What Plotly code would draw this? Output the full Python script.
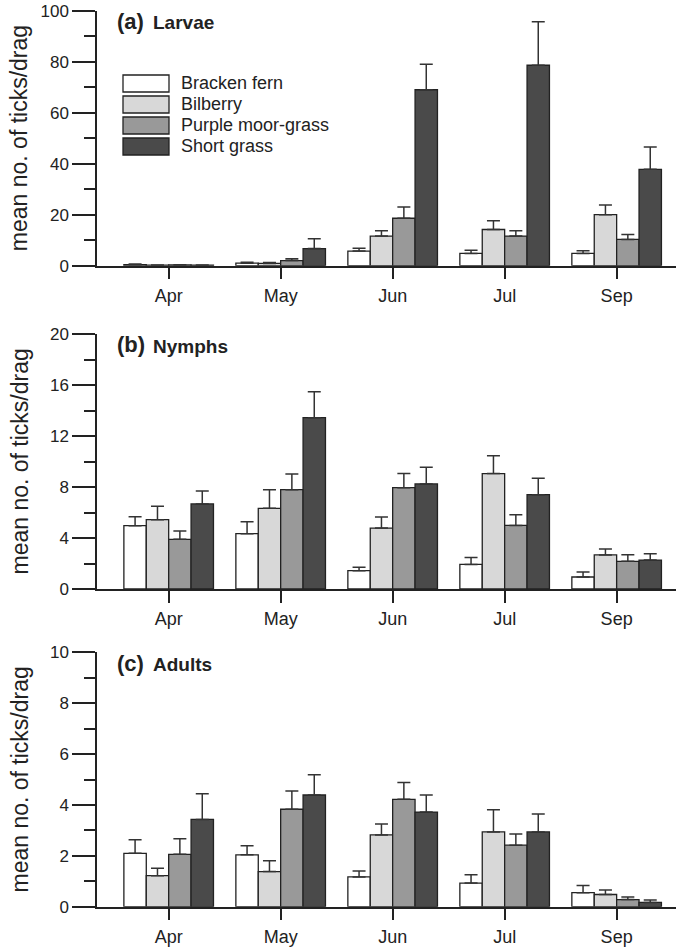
import plotly.graph_objects as go

# ---------------- data ----------------
months = ["Apr", "May", "Jun", "Jul", "Sep"]
habitats = ["Bracken fern", "Bilberry", "Purple moor-grass", "Short grass"]
colors = ["#ffffff", "#d8d8d8", "#999999", "#4a4a4a"]

# (a) Larvae: means and upper SE
larvae_bracken = [0.4, 1.0, 5.75, 4.8, 4.8]
larvae_bilberry = [0.2, 0.9, 11.6, 14.2, 20.0]
larvae_moor = [0.3, 2.0, 18.6, 11.6, 10.3]
larvae_short = [0.2, 6.7, 69.0, 78.6, 37.8]
larvae_bracken_se = [0.3, 0.4, 1.05, 1.3, 1.1]
larvae_bilberry_se = [0.1, 0.4, 2.1, 3.4, 3.8]
larvae_moor_se = [0.1, 0.7, 4.4, 2.1, 1.9]
larvae_short_se = [0.1, 3.9, 10.0, 17.1, 8.7]

# (b) Nymphs
nymphs_bracken = [4.97, 4.34, 1.44, 1.93, 0.94]
nymphs_bilberry = [5.44, 6.33, 4.78, 9.05, 2.67]
nymphs_moor = [3.90, 7.79, 7.95, 4.99, 2.17]
nymphs_short = [6.67, 13.44, 8.24, 7.40, 2.27]
nymphs_bracken_se = [0.70, 0.94, 0.26, 0.55, 0.39]
nymphs_bilberry_se = [1.06, 1.46, 0.87, 1.41, 0.47]
nymphs_moor_se = [0.65, 1.23, 1.10, 0.84, 0.52]
nymphs_short_se = [1.02, 2.04, 1.30, 1.28, 0.50]

# (c) Adults
adults_bracken = [2.10, 2.04, 1.17, 0.93, 0.55]
adults_bilberry = [1.22, 1.38, 2.82, 2.94, 0.48]
adults_moor = [2.06, 3.83, 4.22, 2.42, 0.28]
adults_short = [3.43, 4.39, 3.72, 2.94, 0.17]
adults_bracken_se = [0.53, 0.36, 0.23, 0.33, 0.28]
adults_bilberry_se = [0.29, 0.43, 0.43, 0.87, 0.18]
adults_moor_se = [0.61, 0.72, 0.66, 0.44, 0.10]
adults_short_se = [1.01, 0.80, 0.67, 0.70, 0.09]

panel_labels = ["(a)", "(b)", "(c)"]
panel_names = ["Larvae", "Nymphs", "Adults"]
y_max = [100, 20, 10]
y_dtick = [20, 4, 2]
y_title = "mean no. of ticks/drag"

panel_means = [
    [larvae_bracken, larvae_bilberry, larvae_moor, larvae_short],
    [nymphs_bracken, nymphs_bilberry, nymphs_moor, nymphs_short],
    [adults_bracken, adults_bilberry, adults_moor, adults_short],
]
panel_se = [
    [larvae_bracken_se, larvae_bilberry_se, larvae_moor_se, larvae_short_se],
    [nymphs_bracken_se, nymphs_bilberry_se, nymphs_moor_se, nymphs_short_se],
    [adults_bracken_se, adults_bilberry_se, adults_moor_se, adults_short_se],
]

# ---------------- layout geometry ----------------
W, H = 676, 948
L = 97
FONT = "Liberation Sans, Arial, Helvetica, sans-serif"
INK = "#222222"


def px(x):
    return (x - L) / (W - L)


def py(y):
    return 1 - y / H


panel_px = [(10.7, 265.7), (334.0, 589.0), (652.3, 906.7)]

fig = go.Figure()
layout = dict(
    width=W, height=H,
    margin=dict(l=L, r=0, t=0, b=0, autoexpand=False),
    paper_bgcolor="white", plot_bgcolor="white",
    barmode="group", bargap=0.2, bargroupgap=0.0,
    showlegend=False,
    font=dict(family=FONT, color=INK),
)
annotations = []
shapes = []

for i in range(3):
    xa = "x" if i == 0 else f"x{i+1}"
    ya = "y" if i == 0 else f"y{i+1}"
    xkey = "xaxis" if i == 0 else f"xaxis{i+1}"
    ykey = "yaxis" if i == 0 else f"yaxis{i+1}"
    top, bot = panel_px[i]
    for j, hab in enumerate(habitats):
        fig.add_trace(go.Bar(
            x=months, y=panel_means[i][j], name=hab,
            xaxis=xa, yaxis=ya, offsetgroup=str(j),
            marker=dict(color=colors[j], line=dict(color=INK, width=1.3)),
            error_y=dict(type="data", symmetric=False,
                         array=panel_se[i][j], arrayminus=[0] * len(months),
                         color="#333333", thickness=1.5, width=6.5),
        ))
    layout[xkey] = dict(
        domain=[0, 1], anchor=ya, type="category",
        range=[-0.64, 4.53],
        showline=True, linecolor=INK, linewidth=1.5,
        ticks="outside", ticklen=12, tickwidth=1.5, tickcolor=INK,
        tickfont=dict(size=18, family=FONT, color=INK),
        ticklabelstandoff=1,
        showgrid=False, zeroline=False, automargin=False,
    )
    layout[ykey] = dict(
        domain=[py(bot), py(top)], anchor=xa,
        range=[0, y_max[i]], tick0=0, dtick=y_dtick[i],
        showline=True, linecolor=INK, linewidth=1.5,
        ticks="outside", ticklen=23, tickwidth=1.5, tickcolor=INK,
        tickfont=dict(size=17, family=FONT, color=INK),
        minor=dict(dtick=y_dtick[i] / 2, tick0=0, ticks="outside",
                   ticklen=11, tickwidth=1.5, tickcolor=INK, showgrid=False),
        showgrid=False, zeroline=False, automargin=False,
    )
    # axis title
    annotations.append(dict(
        text=y_title, textangle=-90, x=px(19), y=py((top + bot) / 2),
        xref="paper", yref="paper", xanchor="center", yanchor="middle",
        showarrow=False, font=dict(size=23, family=FONT, color=INK),
    ))
    # panel label
    annotations.append(dict(
        text="<b>" + panel_labels[i] + "</b>", x=px(115), y=py(top + 11),
        xref="paper", yref="paper", xanchor="left", yanchor="middle",
        showarrow=False, font=dict(size=22, family=FONT, color=INK),
    ))
    annotations.append(dict(
        text="<b>" + panel_names[i] + "</b>", x=px(151), y=py(top + 12),
        xref="paper", yref="paper", xanchor="left", yanchor="middle",
        showarrow=False, font=dict(size=19, family=FONT, color=INK),
    ))

# manual legend inside panel (a)
for j, hab in enumerate(habitats):
    y0 = 75 + 21 * j
    shapes.append(dict(
        type="rect", xref="paper", yref="paper",
        x0=px(123), x1=px(169), y0=py(y0 + 17), y1=py(y0),
        fillcolor=colors[j], line=dict(color=INK, width=1.3),
    ))
    annotations.append(dict(
        text=hab, x=px(179), y=py(y0 + 8.5),
        xref="paper", yref="paper", xanchor="left", yanchor="middle",
        showarrow=False, font=dict(size=18, family=FONT, color=INK),
    ))

layout["annotations"] = annotations
layout["shapes"] = shapes
fig.update_layout(**layout)
fig.write_html(
    "out.html",
    config={"displayModeBar": False},
    post_script="document.body.style.margin='0px';document.body.style.overflow='hidden';",
)
